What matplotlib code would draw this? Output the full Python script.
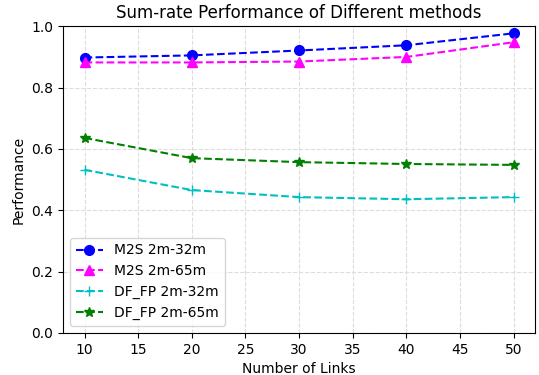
import matplotlib
matplotlib.use('Agg')
import matplotlib.pyplot as plt

# Data
links = [10, 20, 30, 40, 50]
m2s_32 = [0.898, 0.905, 0.921, 0.938, 0.977]
m2s_65 = [0.882, 0.882, 0.885, 0.900, 0.948]
dffp_32 = [0.532, 0.466, 0.443, 0.436, 0.443]
dffp_65 = [0.636, 0.570, 0.557, 0.551, 0.548]

fig, ax = plt.subplots(figsize=(5.39, 3.75), dpi=100)

ax.plot(links, m2s_32, '--o', color='blue', ms=7, label='M2S 2m-32m')
ax.plot(links, m2s_65, '--^', color='magenta', ms=7, label='M2S 2m-65m')
ax.plot(links, dffp_32, '--+', color='c', ms=7, label='DF_FP 2m-32m')
ax.plot(links, dffp_65, '--*', color='green', ms=7, label='DF_FP 2m-65m')

ax.set_ylim(0, 1.0)
ax.set_xlim(8, 52)
ax.set_xlabel('Number of Links')
ax.set_ylabel('Performance')
ax.set_title('Sum-rate Performance of Different methods')
ax.grid(True, linestyle='--', color='#dddddd')
ax.legend(loc='lower left')

fig.subplots_adjust(left=0.117, right=0.993, top=0.93, bottom=0.112)
fig.savefig('out.png', dpi=100)
